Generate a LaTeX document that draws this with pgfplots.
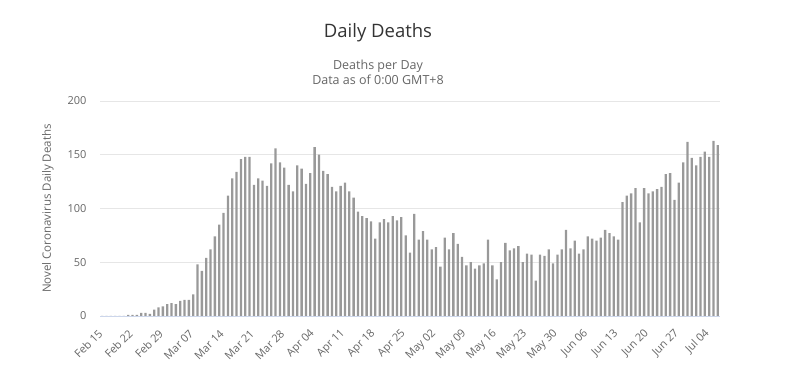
\documentclass[border=0pt]{standalone}
\usepackage{fontspec}
\setmainfont{Open Sans}
\usepackage{pgfplots}
\usepackage{pgfplotstable}
\pgfplotsset{compat=1.18}
\definecolor{barc}{HTML}{999999}
\definecolor{gridc}{HTML}{E6E6E6}
\definecolor{axisc}{HTML}{CCD6EB}
\definecolor{txt}{HTML}{333333}
\definecolor{lbl}{HTML}{666666}
\pgfplotstableread{
x y
0 0
1 0
2 0
3 0
4 0
5 0
6 1
7 1
8 1
9 3
10 3
11 2
12 6
13 8
14 9
15 11
16 12
17 11
18 14
19 15
20 15
21 20
22 48
23 42
24 54
25 62
26 74
27 85
28 96
29 112
30 128
31 134
32 146
33 148
34 148
35 122
36 128
37 126
38 121
39 142
40 156
41 143
42 138
43 122
44 116
45 140
46 137
47 123
48 133
49 157
50 150
51 135
52 132
53 120
54 116
55 121
56 124
57 116
58 110
59 97
60 93
61 91
62 88
63 72
64 87
65 90
66 87
67 93
68 89
69 92
70 75
71 59
72 95
73 71
74 79
75 71
76 62
77 64
78 46
79 73
80 62
81 77
82 67
83 55
84 47
85 50
86 44
87 47
88 49
89 71
90 47
91 34
92 50
93 68
94 61
95 63
96 65
97 50
98 58
99 57
100 33
101 57
102 56
103 62
104 49
105 57
106 62
107 80
108 63
109 70
110 58
111 62
112 74
113 72
114 70
115 73
116 80
117 77
118 74
119 71
120 106
121 112
122 114
123 119
124 87
125 119
126 114
127 116
128 118
129 120
130 132
131 133
132 108
133 124
134 143
135 162
136 147
137 140
138 148
139 153
140 148
141 163
142 159
}\deaths
\begin{document}
\begin{tikzpicture}[x=1pt,y=1pt]
\useasboundingbox (0,0) rectangle (812,367);
\node[text=txt, font=\fontsize{18.5}{22}\selectfont] at (378,334) {Daily Deaths};
\node[text=lbl, font=\fontsize{12.5}{15}\selectfont] at (378,301) {Deaths per Day};
\node[text=lbl, font=\fontsize{12.5}{15}\selectfont] at (378,287) {Data as of 0:00 GMT+8};
\begin{axis}[
  at={(100pt,51pt)}, anchor=south west,
  scale only axis, width=620pt, height=215pt,
  xmin=-0.5, xmax=142.5, ymin=0, ymax=200,
  axis lines*=left,
  y axis line style={draw=none},
  x axis line style={draw=axisc, line width=0.8pt},
  ymajorgrids, grid style={draw=gridc, line width=0.8pt},
  major tick length=0pt,
  ytick={0,50,100,150,200},
  xtick={0,7,...,140},
  xticklabels={Feb 15,Feb 22,Feb 29,Mar 07,Mar 14,Mar 21,Mar 28,Apr 04,Apr 11,Apr 18,Apr 25,May 02,May 09,May 16,May 23,May 30,Jun 06,Jun 13,Jun 20,Jun 27,Jul 04},
  /pgf/number format/assume math mode=true,
  yticklabel style={text=lbl, font=\fontsize{11}{13}\selectfont, xshift=-10pt},
  xticklabel style={text=lbl, font=\fontsize{11}{13}\selectfont, yshift=-15pt, xshift=-1pt, rotate=45, anchor=east, inner sep=1pt},
  ylabel={Novel Coronavirus Daily Deaths},
  ylabel style={text=lbl, font=\fontsize{11.5}{14}\selectfont, at={(axis description cs:-0.0839,0.5)}, anchor=center},
  clip=false,
]
\addplot[ybar, bar width=2.3pt, fill=barc, draw=none] table[x=x,y=y] {\deaths};
\end{axis}
\end{tikzpicture}
\end{document}
